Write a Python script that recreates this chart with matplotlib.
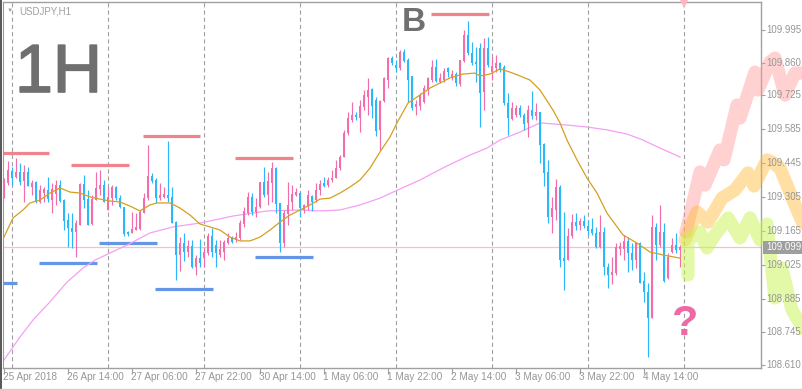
import matplotlib
matplotlib.use('Agg')
import matplotlib.pyplot as plt
import matplotlib.transforms as mtrans
import matplotlib.patheffects as pe
from matplotlib.patches import Rectangle
import numpy as np

plt.rcParams['font.family'] = ['Liberation Sans', 'DejaVu Sans']
plt.rcParams['lines.scale_dashes'] = False

# ---------------- data (USDJPY H1, bar index 0 = 25 Apr 22:00) ----------------
opens = [109.305, 109.362, 109.412, 109.387, 109.408, 109.371, 109.408, 109.346, 109.367, 109.284,
         109.321, 109.334, 109.292, 109.317, 109.354, 109.292, 109.210, 109.176, 109.160, 109.189,
         109.358, 109.296, 109.193, 109.292, 109.338, 109.354, 109.251, 109.300, 109.346, 109.300,
         109.263, 109.160, 109.156, 109.168, 109.172, 109.238, 109.300, 109.391, 109.375, 109.300,
         109.305, 109.313, 109.305, 109.201, 109.065, 109.114, 109.077, 109.102, 109.015, 109.052,
         109.052, 109.073, 109.143, 109.106, 109.065, 109.077, 109.114, 109.135, 109.127, 109.135,
         109.193, 109.238, 109.305, 109.243, 109.263, 109.367, 109.313, 109.362, 109.424, 109.280,
         109.114, 109.234, 109.284, 109.313, 109.321, 109.251, 109.267, 109.309, 109.292, 109.334,
         109.362, 109.354, 109.375, 109.383, 109.424, 109.470, 109.569, 109.623, 109.644, 109.631,
         109.677, 109.718, 109.751, 109.706, 109.582, 109.702, 109.788, 109.879, 109.850, 109.838,
         109.904, 109.871, 109.805, 109.677, 109.681, 109.697, 109.747, 109.788, 109.842, 109.780,
         109.788, 109.838, 109.797, 109.813, 109.772, 109.867, 109.974, 109.900, 109.863, 109.921,
         109.739, 109.921, 109.821, 109.838, 109.859, 109.842, 109.693, 109.627, 109.644, 109.673,
         109.644, 109.611, 109.664, 109.639, 109.656, 109.524, 109.408, 109.222, 109.251, 109.346,
         109.052, 109.044, 109.143, 109.201, 109.189, 109.205, 109.185, 109.172, 109.156, 109.098,
         109.160, 109.015, 108.982, 108.990, 109.090, 109.090, 109.123, 109.073, 109.044, 109.114,
         108.957, 108.912, 108.804, 109.181, 109.106, 109.160, 108.970, 109.077, 109.106, 109.086]
highs = [109.383, 109.453, 109.429, 109.466, 109.445, 109.437, 109.429, 109.375, 109.371, 109.354,
         109.346, 109.387, 109.362, 109.375, 109.375, 109.296, 109.238, 109.238, 109.210, 109.362,
         109.396, 109.334, 109.313, 109.408, 109.416, 109.375, 109.346, 109.354, 109.350, 109.313,
         109.263, 109.164, 109.243, 109.238, 109.251, 109.321, 109.520, 109.404, 109.383, 109.362,
         109.346, 109.536, 109.346, 109.205, 109.139, 109.156, 109.127, 109.127, 109.065, 109.131,
         109.098, 109.156, 109.176, 109.127, 109.127, 109.127, 109.156, 109.143, 109.160, 109.210,
         109.263, 109.325, 109.321, 109.300, 109.367, 109.429, 109.408, 109.449, 109.429, 109.280,
         109.251, 109.367, 109.354, 109.342, 109.325, 109.276, 109.334, 109.313, 109.362, 109.375,
         109.387, 109.387, 109.416, 109.458, 109.478, 109.582, 109.656, 109.697, 109.656, 109.706,
         109.747, 109.797, 109.755, 109.718, 109.706, 109.801, 109.883, 109.888, 109.871, 109.912,
         109.916, 109.879, 109.805, 109.706, 109.735, 109.768, 109.801, 109.871, 109.875, 109.817,
         109.838, 109.842, 109.830, 109.821, 109.871, 109.995, 110.032, 109.945, 109.925, 109.941,
         109.962, 109.966, 109.883, 109.892, 109.863, 109.850, 109.735, 109.697, 109.685, 109.685,
         109.652, 109.685, 109.743, 109.693, 109.656, 109.528, 109.458, 109.305, 109.379, 109.354,
         109.243, 109.176, 109.234, 109.238, 109.218, 109.230, 109.210, 109.218, 109.181, 109.230,
         109.181, 109.032, 109.057, 109.114, 109.119, 109.148, 109.139, 109.114, 109.119, 109.119,
         108.994, 108.949, 109.230, 109.197, 109.272, 109.197, 109.073, 109.135, 109.156, 109.106]
lows = [109.300, 109.354, 109.354, 109.383, 109.354, 109.284, 109.350, 109.313, 109.280, 109.280,
        109.284, 109.284, 109.238, 109.272, 109.284, 109.168, 109.098, 109.094, 109.057, 109.189,
        109.259, 109.189, 109.189, 109.292, 109.313, 109.284, 109.251, 109.272, 109.292, 109.259,
        109.143, 109.143, 109.156, 109.168, 109.168, 109.238, 109.292, 109.362, 109.280, 109.292,
        109.300, 109.284, 109.197, 108.962, 108.999, 109.040, 109.057, 109.011, 108.982, 109.015,
        109.015, 109.065, 109.057, 109.015, 109.057, 109.044, 109.110, 109.114, 109.119, 109.127,
        109.181, 109.230, 109.230, 109.222, 109.259, 109.305, 109.272, 109.284, 109.238, 109.077,
        109.098, 109.189, 109.251, 109.309, 109.222, 109.238, 109.251, 109.247, 109.284, 109.313,
        109.346, 109.346, 109.367, 109.383, 109.416, 109.470, 109.561, 109.615, 109.623, 109.573,
        109.664, 109.644, 109.631, 109.557, 109.499, 109.697, 109.755, 109.850, 109.821, 109.830,
        109.863, 109.697, 109.664, 109.644, 109.664, 109.693, 109.726, 109.780, 109.780, 109.776,
        109.780, 109.801, 109.788, 109.764, 109.764, 109.863, 109.892, 109.850, 109.780, 109.594,
        109.664, 109.842, 109.788, 109.821, 109.821, 109.685, 109.561, 109.623, 109.635, 109.635,
        109.582, 109.553, 109.627, 109.623, 109.445, 109.350, 109.197, 109.156, 109.210, 109.015,
        108.920, 109.044, 109.135, 109.168, 109.168, 109.176, 109.148, 109.148, 109.094, 109.094,
        108.982, 108.928, 108.945, 108.982, 109.065, 109.044, 108.994, 109.003, 109.011, 108.949,
        108.871, 108.643, 108.804, 109.044, 109.098, 108.953, 108.965, 109.073, 109.073, 109.015]
closes = [109.371, 109.416, 109.383, 109.408, 109.367, 109.408, 109.350, 109.362, 109.284, 109.334,
          109.338, 109.296, 109.338, 109.354, 109.288, 109.205, 109.176, 109.160, 109.197, 109.358,
          109.292, 109.189, 109.296, 109.342, 109.354, 109.284, 109.305, 109.346, 109.300, 109.263,
          109.152, 109.152, 109.172, 109.181, 109.243, 109.300, 109.391, 109.371, 109.300, 109.313,
          109.317, 109.300, 109.197, 109.065, 109.114, 109.077, 109.102, 109.015, 109.052, 109.032,
          109.077, 109.143, 109.077, 109.073, 109.090, 109.119, 109.135, 109.119, 109.139, 109.197,
          109.247, 109.305, 109.243, 109.263, 109.367, 109.313, 109.371, 109.424, 109.276, 109.114,
          109.238, 109.272, 109.317, 109.325, 109.259, 109.272, 109.313, 109.284, 109.334, 109.358,
          109.350, 109.375, 109.383, 109.424, 109.470, 109.569, 109.631, 109.644, 109.635, 109.681,
          109.726, 109.747, 109.681, 109.577, 109.702, 109.797, 109.879, 109.859, 109.838, 109.904,
          109.867, 109.788, 109.673, 109.689, 109.726, 109.755, 109.797, 109.842, 109.784, 109.797,
          109.825, 109.821, 109.813, 109.776, 109.871, 109.974, 109.900, 109.859, 109.854, 109.735,
          109.921, 109.850, 109.846, 109.859, 109.830, 109.693, 109.631, 109.673, 109.673, 109.644,
          109.606, 109.664, 109.639, 109.656, 109.520, 109.404, 109.222, 109.259, 109.346, 109.044,
          109.040, 109.143, 109.201, 109.185, 109.205, 109.185, 109.164, 109.156, 109.098, 109.160,
          109.015, 108.982, 108.994, 109.098, 109.102, 109.123, 109.073, 109.044, 109.114, 108.949,
          108.912, 108.804, 109.181, 109.106, 109.160, 108.957, 109.057, 109.106, 109.086, 109.099]

# moving averages (read at bar positions)
ma_fast_idx = [0, 2.25, 4.75, 6.5, 9, 11.5, 14, 16.5, 19, 21.5, 24, 26.5, 29, 31.5, 34, 36.5, 38.25, 41.5,
               44, 46.5, 49, 51.5, 54, 56.5, 59, 61.5, 64, 66.5, 69, 71.5, 74, 76.5, 79, 81.5, 84, 86.5,
               89, 91.5, 94, 96.5, 98.25, 101, 103.25, 106.5, 109, 111.5, 114.75, 117.75, 119, 121.5,
               124, 126.5, 129, 131.5, 134, 137.25, 139, 140.75, 143.25, 145.75, 148.25, 150.75, 152,
               154.75, 158.25, 161.5, 164.75, 169]
ma_fast_val = [109.139, 109.218, 109.251, 109.280, 109.292, 109.321, 109.342, 109.325, 109.321, 109.305,
               109.296, 109.288, 109.284, 109.267, 109.247, 109.272, 109.280, 109.280, 109.259, 109.230,
               109.193, 109.181, 109.168, 109.139, 109.123, 109.123, 109.139, 109.168, 109.201, 109.230,
               109.251, 109.272, 109.296, 109.300, 109.321, 109.346, 109.375, 109.424, 109.491, 109.553,
               109.611, 109.693, 109.718, 109.755, 109.776, 109.797, 109.813, 109.817, 109.805, 109.813,
               109.834, 109.821, 109.805, 109.788, 109.747, 109.664, 109.611, 109.540, 109.458, 109.383,
               109.321, 109.238, 109.210, 109.148, 109.114, 109.077, 109.065, 109.052]
ma_slow_idx = [0, 4, 7.25, 11.5, 15.75, 19.75, 22.75, 30.75, 36.5, 42.25, 49, 57.25, 65.75, 74, 79, 84,
               89, 94, 99, 104, 110.25, 116.5, 120.75, 124, 129, 134, 140.75, 145.75, 150.75, 155.75,
               159.75, 164, 169]
ma_slow_val = [108.631, 108.726, 108.796, 108.871, 108.953, 109.011, 109.044, 109.106, 109.156, 109.181,
               109.197, 109.226, 109.247, 109.251, 109.247, 109.251, 109.272, 109.300, 109.338, 109.375,
               109.429, 109.478, 109.507, 109.540, 109.573, 109.611, 109.602, 109.594, 109.582, 109.565,
               109.540, 109.507, 109.470]

# resistance (red) / support (blue) marks: (start bar, end bar, price)
res_lines = [(-0.25, 11.25, 109.488), (16.75, 31.25, 109.438), (34.75, 49.0, 109.558),
             (57.75, 72.25, 109.467), (106.75, 121.25, 110.062)]
sup_lines = [(-0.25, 3.25, 108.950), (8.75, 23.25, 109.033), (23.75, 38.25, 109.116),
             (37.75, 52.25, 108.926), (62.75, 77.25, 109.058)]

# projected scenario paths
proj_up_idx = [170.5, 174, 175.25, 179, 180, 183.25, 184, 187.75, 188.5, 191.5, 192.75, 195.25, 197.75, 200.25]
proj_up_val = [109.160, 109.408, 109.354, 109.499, 109.458, 109.685, 109.631, 109.821, 109.747, 109.863,
               109.879, 109.726, 109.817, 109.817]
proj_mid_idx = [170.25, 173.25, 176, 179.5, 182.75, 186, 187.5, 190.75, 192, 194, 197.75, 200.25]
proj_mid_val = [109.127, 109.243, 109.201, 109.300, 109.334, 109.404, 109.350, 109.458, 109.449, 109.424,
                109.272, 109.176]
proj_low_idx = [171, 171, 174, 175.75, 177.5, 181, 184, 186.5, 189, 190.75, 192.75, 194.5, 197, 200.25]
proj_low_val = [108.982, 109.127, 109.160, 109.094, 109.143, 109.218, 109.135, 109.218, 109.127, 109.193,
                108.887, 109.011, 108.837, 108.746]

last_price = 109.099
y_ticks = [109.995, 109.860, 109.725, 109.585, 109.445, 109.305, 109.165, 109.025, 108.885, 108.745, 108.610]
x_tick_idx = [0, 16, 32, 48, 64, 80, 96, 112, 128, 144, 160]
x_tick_labels = ['25 Apr 2018', '26 Apr 14:00', '27 Apr 06:00', '27 Apr 22:00', '30 Apr 14:00',
                 '1 May 06:00', '1 May 22:00', '2 May 14:00', '3 May 06:00', '3 May 22:00', '4 May 14:00']
day_sep_idx = [2, 26, 50, 74, 98, 122, 146, 170]

# ---------------- styling ----------------
W, H = 803, 390
PINK = '#F26DAA'
BLUE = '#2BB8FA'
GRID = '#A0A0A0'
LABEL = '#969696'

fig = plt.figure(figsize=(W / 100, H / 100), dpi=100)
fig.patch.set_facecolor('white')
ax = fig.add_axes([3 / W, 22 / H, 758 / W, 366 / H])
ax.set_facecolor('white')
ax.set_xlim(-0.25, 189.25)
ax.set_ylim(108.5977, 110.1108)

for s in ['top', 'right', 'bottom']:
    ax.spines[s].set_color(GRID)
    ax.spines[s].set_linewidth(1.0)
ax.spines['left'].set_color('#9A9A9A')

# day separators
for d in day_sep_idx:
    ax.axvline(d, color=GRID, lw=0.8, linestyle=(0, (3, 2.2)), zorder=0.5)

# current price line
ax.axhline(last_price, color='#FFBCC8', lw=0.9, zorder=0.8)

# S/R marks
for x0, x1, p in res_lines:
    ax.plot([x0, x1], [p, p], color='#F0848C', lw=2.3, solid_capstyle='butt', zorder=1.5)
for x0, x1, p in sup_lines:
    ax.plot([x0, x1], [p, p], color='#6496E8', lw=2.3, solid_capstyle='butt', zorder=1.5)

# moving averages
ax.plot(ma_slow_idx, ma_slow_val, color='#F4A0F4', lw=0.9, zorder=1.8)
ax.plot(ma_fast_idx, ma_fast_val, color='#D3A020', lw=0.9, zorder=2.6)

# candles
o = np.array(opens); h = np.array(highs); l = np.array(lows); c = np.array(closes)
idx = np.arange(len(o))
cols = [PINK if cc >= oo else BLUE for oo, cc in zip(o, c)]
ax.vlines(idx, l, h, colors=cols, lw=0.85, zorder=2)
body_bottom = np.minimum(o, c)
body_h = np.maximum(np.abs(c - o), 0.0045)
ax.bar(idx, body_h, bottom=body_bottom, width=0.72, color=cols, linewidth=0, zorder=2.2)

# projection paths (outside axes too)
ax.plot(proj_up_idx, proj_up_val, color='#FF9A9A', alpha=0.45, lw=9.5, solid_capstyle='round',
        solid_joinstyle='round', clip_on=False, zorder=3)
ax.plot(proj_mid_idx, proj_mid_val, color='#FFBA35', alpha=0.45, lw=9.5, solid_capstyle='round',
        solid_joinstyle='round', clip_on=False, zorder=3.1)
ax.plot(proj_low_idx, proj_low_val, color='#C8F550', alpha=0.5, lw=9.5, solid_capstyle='round',
        solid_joinstyle='round', clip_on=False, zorder=3.2)
ax.plot([170], [110.103], marker='v', color='#FFB4C0', markersize=6, clip_on=False, zorder=3.3,
        markeredgewidth=0)

# ticks
ax.set_yticks(y_ticks)
ax.yaxis.tick_right()
ax.tick_params(axis='y', length=3, width=0.8, color=GRID, labelright=False, labelleft=False)
ax.set_xticks(x_tick_idx)
ax.tick_params(axis='x', length=4, width=0.8, color=GRID, labelbottom=False)

ty = mtrans.blended_transform_factory(ax.transAxes, ax.transData)
for v in y_ticks:
    ax.text(1.0075, v, f'{v:.3f}', transform=ty, ha='left', va='center', fontsize=6.9,
            color=LABEL, clip_on=False, zorder=10)

# last price tag
tag_h = 13 / 366 * (110.1108 - 108.5977)
ax.add_patch(Rectangle((1.0026, last_price - tag_h / 2 - 0.002), 42 / 758, tag_h, transform=ty,
                       facecolor='#9E9E9E', edgecolor='none', clip_on=False, zorder=10.5))
ax.text(1.0075, last_price, f'{last_price:.3f}', transform=ty, ha='left', va='center', fontsize=6.9,
        color='white', clip_on=False, zorder=11)

tx = mtrans.blended_transform_factory(ax.transData, ax.transAxes)
for i, lab in zip(x_tick_idx, x_tick_labels):
    ax.text(i - 0.35, -0.0246, lab, transform=tx, ha='left', va='center', fontsize=7.2,
            color=LABEL, clip_on=False)

# annotations
fig.text(19 / W, (H - 11) / H, 'USDJPY,H1', fontsize=7, color='#A0A0A0', ha='left', va='center')
fig.text(10 / W, (H - 10) / H, '\u25BC', fontsize=4.5, color='#A0A0A0', ha='center', va='center')
fig.text(15 / W, (H - 92) / H, '1H', fontsize=49, color='#6F6F6F', ha='left', va='baseline',
         path_effects=[pe.withStroke(linewidth=1.2, foreground='#6F6F6F')])
fig.text(401.5 / W, (H - 31) / H, 'B', fontsize=24, color='#707070', ha='left', va='baseline',
         fontweight='bold')
ax.text(170.25, 108.734, '?', fontsize=31, color='#EE6AA7', ha='center', va='baseline',
        fontweight='bold', zorder=4)

# frame bits
fig.patches.append(Rectangle((0, 0), 2 / W, 1, transform=fig.transFigure, facecolor='#5A5A5A',
                             edgecolor='none'))
fig.lines.append(plt.Line2D([0, 1], [1.5 / H, 1.5 / H], transform=fig.transFigure, color='#D0D0D0', lw=1))

fig.savefig('out.png', dpi=100, facecolor='white')
